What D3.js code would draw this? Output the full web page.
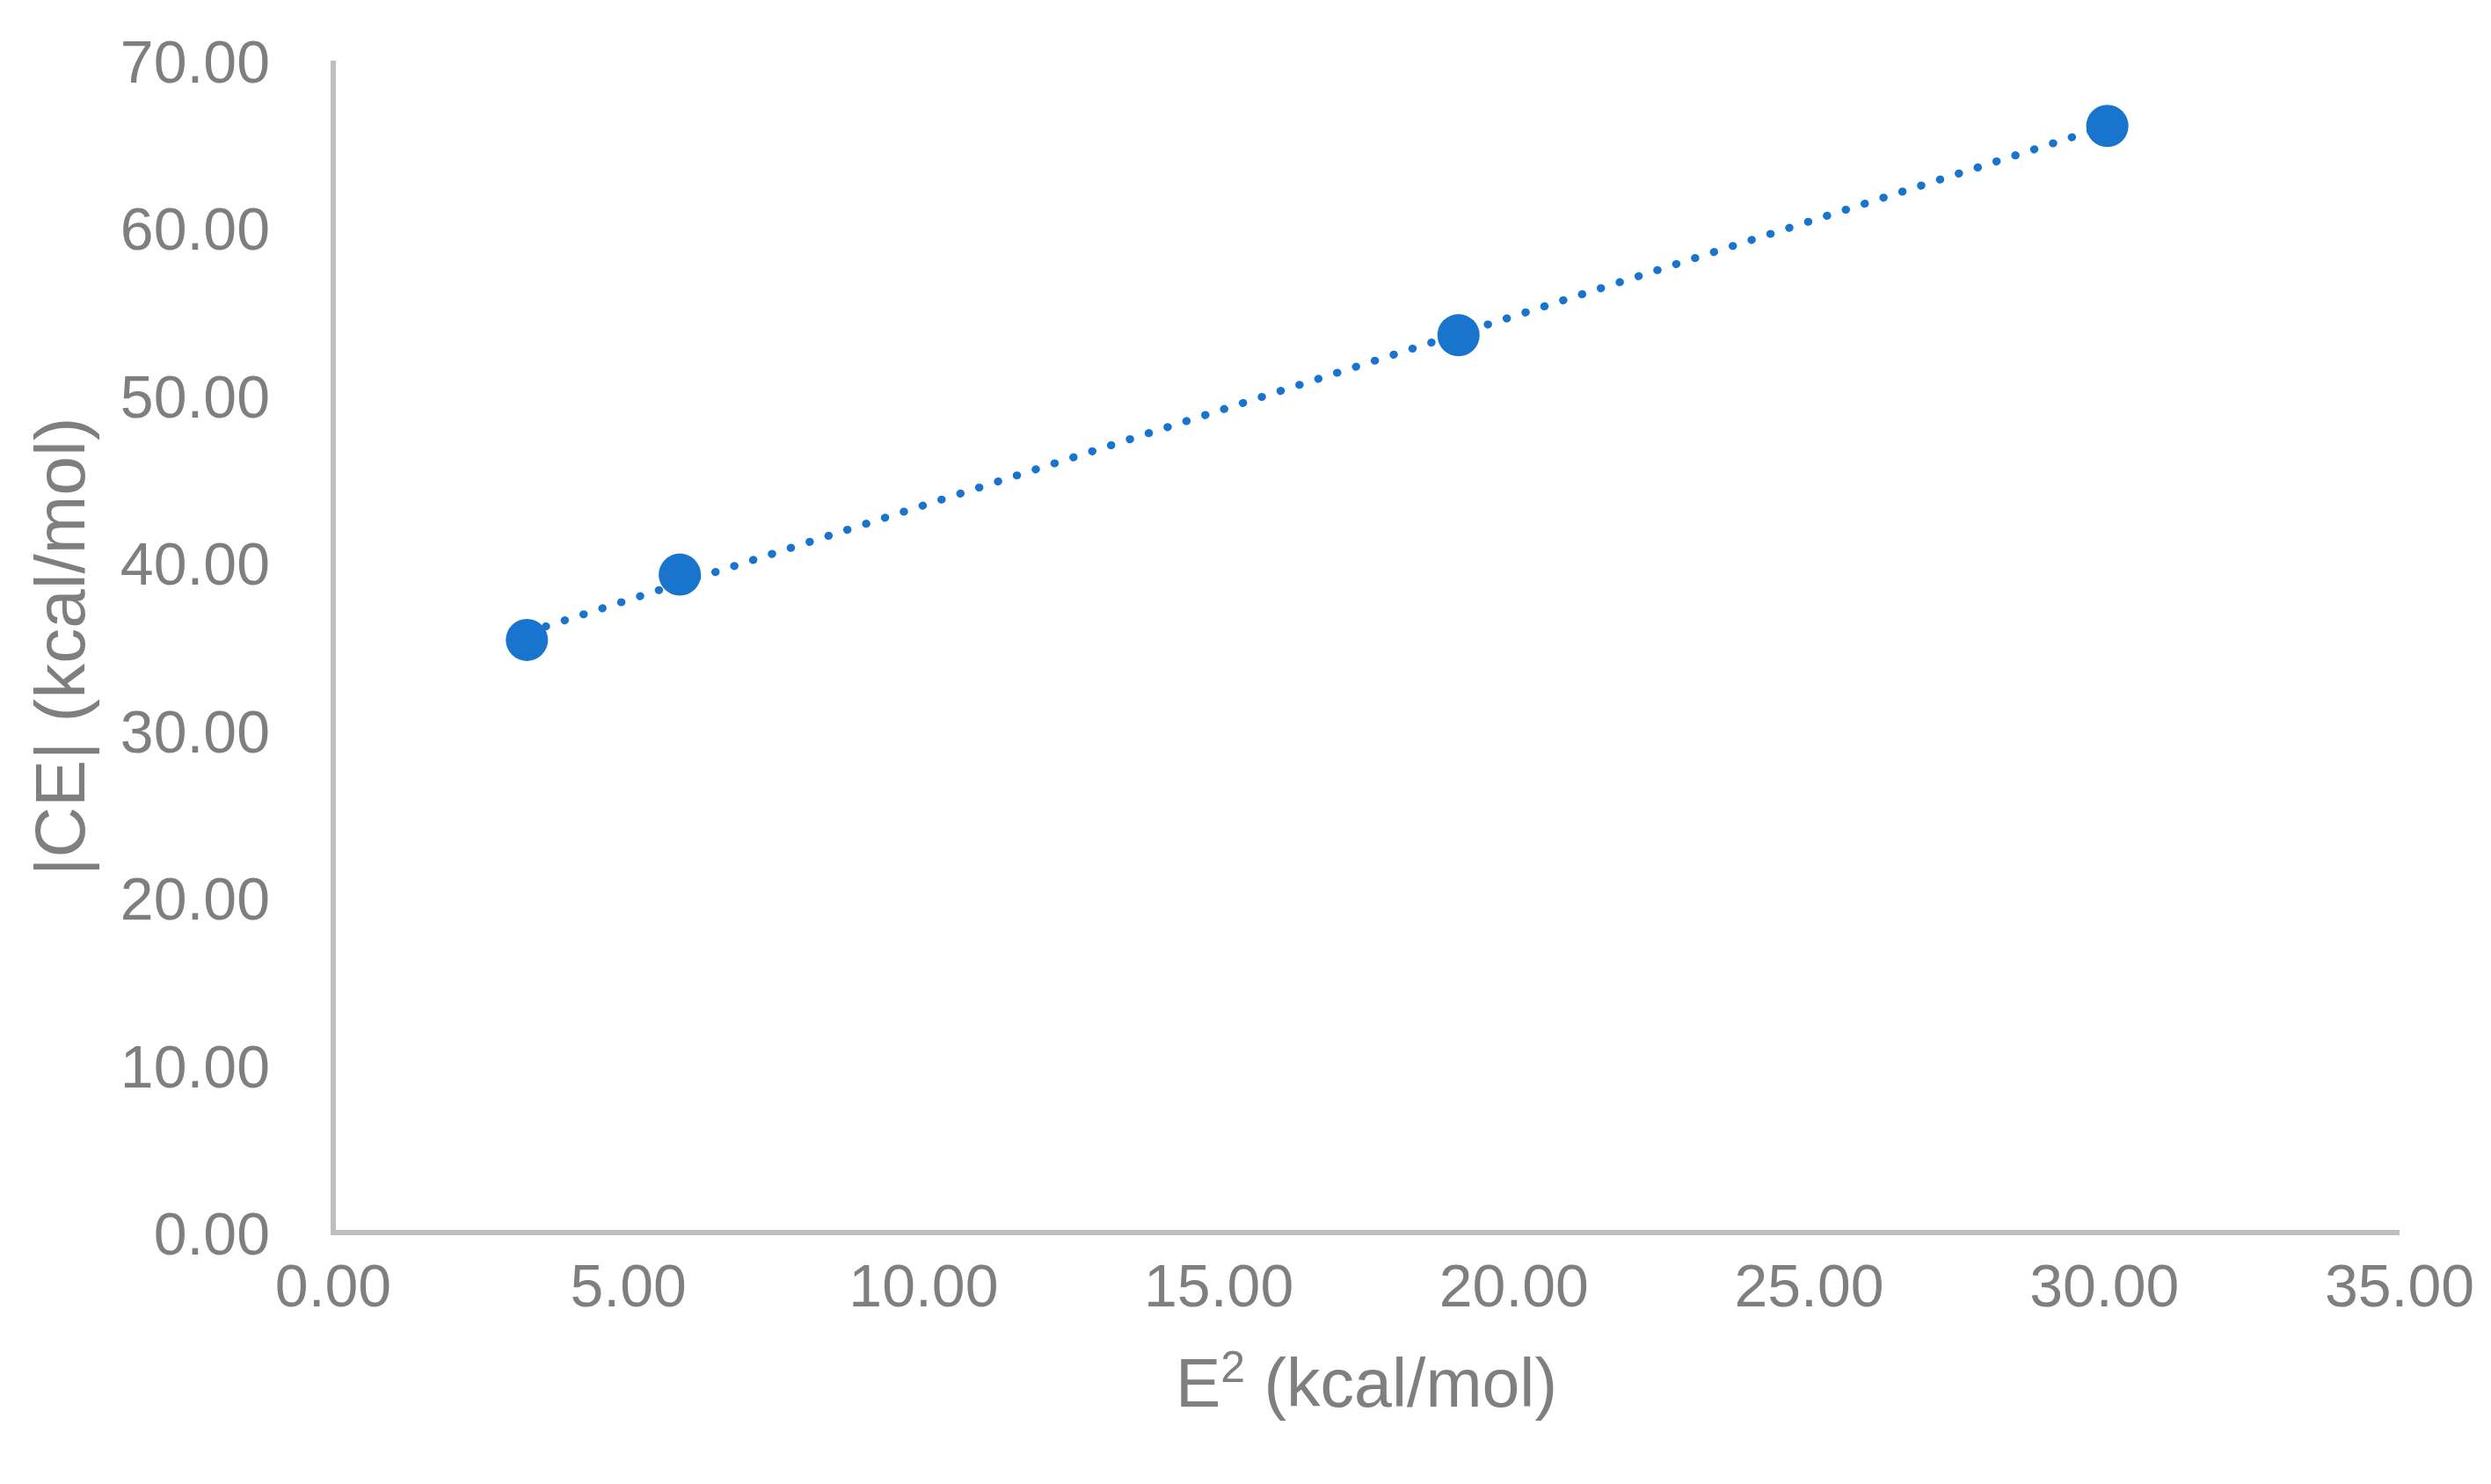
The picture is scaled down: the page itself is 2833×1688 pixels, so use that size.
<!DOCTYPE html>
<html>
<head>
<meta charset="utf-8">
<script src="https://cdn.jsdelivr.net/npm/d3@7"></script>
<style>
  body { margin: 0; background: #fff; }
  text { font-family: "Liberation Sans", Arial, sans-serif; fill: #7f7f7f; }
</style>
</head>
<body>
<div id="chart"></div>
<script>
// values
const e2Values = [3.28, 5.87, 19.06, 30.05];
const ceValues = [35.4, 39.3, 53.6, 66.1];
const xTicks = [0, 5, 10, 15, 20, 25, 30, 35];
const yTicks = [0, 10, 20, 30, 40, 50, 60, 70];

var width = 2833, height = 1688;
var margin = { top: 69, right: 104, bottom: 286, left: 379 };

var svg = d3.select("#chart").append("svg")
    .attr("width", width)
    .attr("height", height);

var x = d3.scaleLinear().domain([0, 35]).range([margin.left, width - margin.right]);
var y = d3.scaleLinear().domain([0, 70]).range([height - margin.bottom, margin.top]);

// axis lines
svg.append("line")
    .attr("x1", x(0)).attr("x2", x(35))
    .attr("y1", y(0)).attr("y2", y(0))
    .attr("stroke", "#bfbfbf").attr("stroke-width", 6);
svg.append("line")
    .attr("x1", x(0)).attr("x2", x(0))
    .attr("y1", y(0) + 3).attr("y2", y(70))
    .attr("stroke", "#bfbfbf").attr("stroke-width", 6);

// tick labels
svg.selectAll(".xt").data(xTicks).enter().append("text")
    .attr("x", d => x(d))
    .attr("y", y(0) + 84)
    .attr("text-anchor", "middle")
    .style("font-size", "68px")
    .text(d => d.toFixed(2));

svg.selectAll(".yt").data(yTicks).enter().append("text")
    .attr("x", x(0) - 72)
    .attr("y", d => y(d) + 25)
    .attr("text-anchor", "end")
    .style("font-size", "68px")
    .text(d => d.toFixed(2));

// axis titles
var xt = svg.append("text")
    .attr("x", (x(0) + x(35)) / 2)
    .attr("y", 1600)
    .attr("text-anchor", "middle")
    .style("font-size", "77px");
xt.append("tspan").text("E");
xt.append("tspan").attr("dy", -28).style("font-size", "50px").text("2");
xt.append("tspan").attr("dy", 28).text(" (kcal/mol)");

svg.append("text")
    .attr("transform", "translate(96," + ((y(0) + y(70)) / 2) + ") rotate(-90)")
    .attr("text-anchor", "middle")
    .style("font-size", "80px")
    .text("|CE| (kcal/mol)");

// linear trendline (least squares)
var mx = d3.mean(e2Values), my = d3.mean(ceValues);
var slope = d3.sum(e2Values, (v, i) => (v - mx) * (ceValues[i] - my)) /
            d3.sum(e2Values, v => (v - mx) * (v - mx));
var icpt = my - slope * mx;
var x0 = d3.min(e2Values), x1 = d3.max(e2Values);

svg.append("line")
    .attr("x1", x(x0)).attr("y1", y(icpt + slope * x0))
    .attr("x2", x(x1)).attr("y2", y(icpt + slope * x1))
    .attr("stroke", "#1874cd")
    .attr("stroke-width", 9)
    .attr("stroke-linecap", "round")
    .attr("stroke-dasharray", "0.5 22");

// points
svg.selectAll(".pt").data(e2Values).enter().append("circle")
    .attr("cx", d => x(d))
    .attr("cy", (d, i) => y(ceValues[i]))
    .attr("r", 24)
    .attr("fill", "#1874cd");
</script>
</body>
</html>
